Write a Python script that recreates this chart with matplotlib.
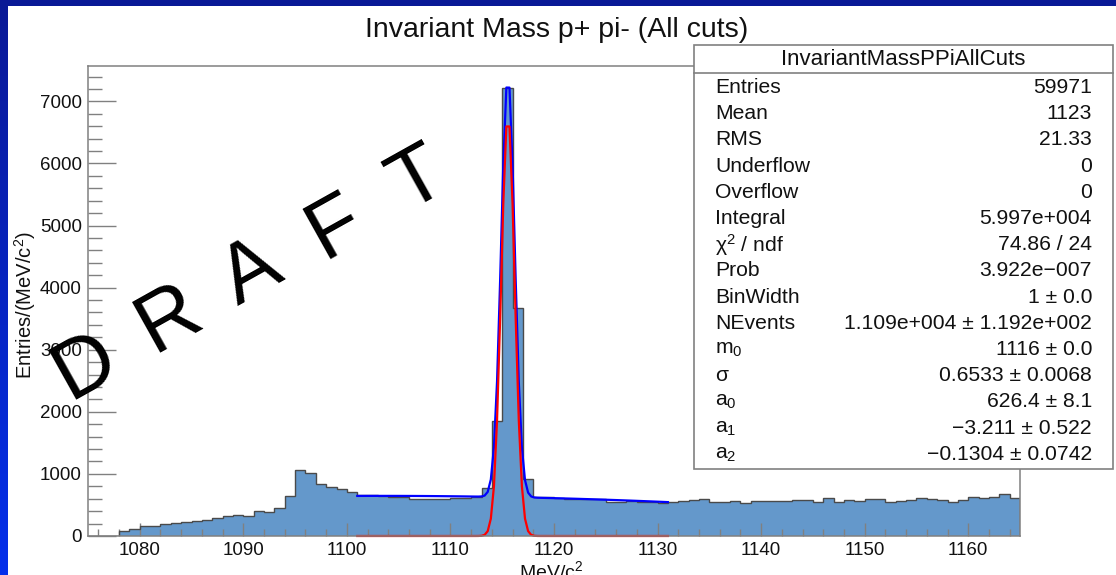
import numpy as np
import matplotlib
matplotlib.use("Agg")
import matplotlib.pyplot as plt
from matplotlib.patches import Rectangle
from matplotlib.ticker import MultipleLocator

plt.rcParams['font.family'] = ['Liberation Sans', 'DejaVu Sans']
plt.rcParams['mathtext.fontset'] = 'custom'
plt.rcParams['mathtext.rm'] = 'Liberation Sans'
plt.rcParams['mathtext.it'] = 'Liberation Sans:italic'
plt.rcParams['mathtext.bf'] = 'Liberation Sans:bold'

# ---- histogram: p pi- invariant mass, 1 MeV bins from 1075 to 1165 ----
x_min, x_max = 1075, 1165
counts = [
    0, 0, 0, 80, 113, 167, 167, 199, 215, 231,          # 1075-1084
    247, 263, 296, 317, 339, 323, 409, 392, 457, 650,   # 1085-1094
    1064, 1011, 833, 796, 758, 715, 667, 656, 645, 634, # 1095-1104
    624, 602, 591, 602, 602, 610, 608, 634, 769, 1852,  # 1105-1114
    7210, 3670, 925, 634, 624, 608, 597, 591, 602, 591, # 1115-1124
    545, 554, 564, 548, 548, 538, 548, 564, 585, 590,   # 1125-1134
    554, 543, 559, 538, 570, 570, 564, 570, 575, 575,   # 1135-1144
    548, 607, 543, 581, 559, 597, 597, 554, 570, 586,   # 1145-1154
    607, 591, 581, 543, 586, 634, 607, 634, 677, 613,   # 1155-1164
]
edges = np.arange(x_min, x_max + 1, 1)

# ---- fit: gaussian signal + 2nd order polynomial background ----
n_events = 1.109e4
bin_width = 1.0
m0 = 1115.55
sigma = 0.6533
a0, a1, a2 = 626.4, -3.211, -0.1304
fit_lo, fit_hi = 1101, 1131

# ---- statistics box ----
stats_title = "InvariantMassPPiAllCuts"
stats_labels = ["Entries", "Mean", "RMS", "Underflow", "Overflow", "Integral",
                "χ$^{2}$ / ndf", "Prob", "BinWidth", "NEvents", "m$_{0}$", "σ",
                "a$_{0}$", "a$_{1}$", "a$_{2}$"]
stats_values = ["59971", "1123", "21.33", "0", "0", "5.997e+004",
                "74.86 / 24", "3.922e\u2212007", "1 ± 0.0",
                "1.109e+004 ± 1.192e+002", "1116 ± 0.0", "0.6533 ± 0.0068",
                "626.4 ± 8.1", "\u22123.211 ± 0.522", "\u22120.1304 ± 0.0742"]

title = "Invariant Mass p+ pi- (All cuts)"
x_title = "MeV/c$^{2}$"
y_title = "Entries/(MeV/c$^{2}$)"
watermark = "DRAFT"

W, H = 1116, 575
fig = plt.figure(figsize=(W / 100, H / 100), dpi=100)

# slide background: vertical blue gradient with a white canvas on top
bg = fig.add_axes([0, 0, 1, 1], zorder=-10)
bg.set_axis_off()
top_c = np.array([10, 25, 150]) / 255
bot_c = np.array([5, 48, 235]) / 255
t = np.linspace(0, 1, 256)[:, None]
grad = (top_c[None, :] * (1 - t) + bot_c[None, :] * t)[:, None, :]
bg.imshow(grad, extent=[0, 1, 0, 1], aspect='auto', origin='upper')
bg.add_patch(Rectangle((8 / W, 0), (W - 8) / W, (H - 6) / H,
                       transform=bg.transAxes, facecolor='white', edgecolor='none'))
bg.set_xlim(0, 1)
bg.set_ylim(0, 1)

# main frame
ax = fig.add_axes([88 / W, 1 - 536 / H, 932 / W, 470 / H], zorder=0)
ax.set_facecolor('white')
ax.stairs(counts, edges, fill=True, color='#6498cb', zorder=1)
ax.stairs(counts, edges, color='#4a4a4a', lw=1.0, baseline=0, zorder=2)

xf = np.linspace(fit_lo, fit_hi, 101)
gauss = n_events * bin_width / (np.sqrt(2 * np.pi) * sigma) * np.exp(-0.5 * ((xf - m0) / sigma) ** 2)
background = a0 + a1 * (xf - m0) + a2 * (xf - m0) ** 2
ax.plot(xf, gauss + background, color='#0000ff', lw=1.6, zorder=3)
ax.plot(xf, gauss, color='#ff0000', lw=1.6, zorder=4, clip_on=False)

ax.set_xlim(x_min, x_max)
ax.set_ylim(0, 7570)
ax.xaxis.set_major_locator(MultipleLocator(10))
ax.xaxis.set_minor_locator(MultipleLocator(2))
ax.yaxis.set_major_locator(MultipleLocator(1000))
ax.yaxis.set_minor_locator(MultipleLocator(200))
for s in ax.spines.values():
    s.set_color('#808080')
    s.set_linewidth(1.1)
    s.set_zorder(5)
ax.tick_params(which='both', direction='in', color='#808080', width=1.0,
               labelsize=13.5, labelcolor='#111111', top=False, right=False)
ax.tick_params(axis='y', which='major', length=20, pad=4.5)
ax.tick_params(axis='y', which='minor', length=10)
ax.tick_params(axis='x', which='major', length=9.5, pad=4)
ax.tick_params(axis='x', which='minor', length=5)

# overlay in pixel coordinates for titles, stats box and watermark
ov = fig.add_axes([0, 0, 1, 1], zorder=10)
ov.set_axis_off()
ov.set_xlim(0, W)
ov.set_ylim(H, 0)
ov.patch.set_alpha(0)

ov.text(557, 30, title, fontsize=20.5, ha='center', va='center', color='#111111')
ov.text(25, 305, y_title, fontsize=14.5, rotation=90, ha='center', va='center', color='#111111')
ov.text(551, 571, x_title, fontsize=14, ha='center', va='center', color='#111111')

box_l, box_r, box_t, box_b = 694, 1113, 45, 469
ov.add_patch(Rectangle((box_l, box_t), box_r - box_l, box_b - box_t,
                       facecolor='white', edgecolor='#808080', lw=1.2))
ov.plot([box_l, box_r], [73, 73], color='#808080', lw=1.2)
ov.text((box_l + box_r) / 2, 59.5, stats_title, fontsize=16, ha='center', va='center', color='#111111')
row0, row_step = 87.5, 26.2
for i, (lab, val) in enumerate(zip(stats_labels, stats_values)):
    y = row0 + i * row_step
    ov.text(715, y, lab, fontsize=15.2, ha='left', va='center', color='#111111')
    ov.text(1092, y, val, fontsize=15.2, ha='right', va='center', color='#111111')

# widely spaced, tilted watermark letters along a diagonal line
wm_start = np.array([85.0, 366.0])
wm_end = np.array([418.0, 180.0])
angle = np.degrees(np.arctan2(wm_start[1] - wm_end[1], wm_end[0] - wm_start[0]))
for k, ch in enumerate(watermark):
    px, py = wm_start + (wm_end - wm_start) * k / (len(watermark) - 1)
    ov.text(px, py, ch, fontsize=60, rotation=angle, ha='center', va='center',
            rotation_mode='anchor', color='black')

fig.savefig("out.png", dpi=100)
